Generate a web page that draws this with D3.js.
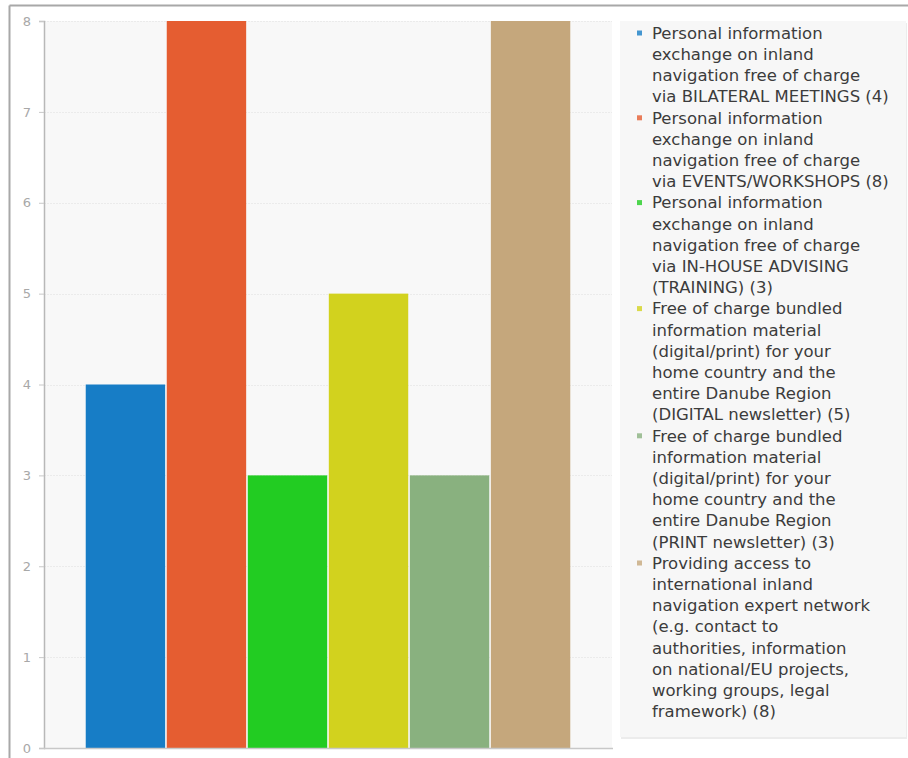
<!DOCTYPE html>
<html>
<head>
<meta charset="utf-8">
<script src="https://cdn.jsdelivr.net/npm/d3@7"></script>
<style>
  html, body { margin: 0; padding: 0; background: #fff; }
  svg { display: block; font-family: "DejaVu Sans", sans-serif; }
</style>
</head>
<body>
<svg id="chart" width="908" height="758"></svg>
<script>
// Service categories (one bar each) and their counts
const categories = [
  "BILATERAL MEETINGS",
  "EVENTS/WORKSHOPS",
  "IN-HOUSE ADVISING",
  "DIGITAL newsletter",
  "PRINT newsletter",
  "Expert network"
];
const values = [4, 8, 3, 5, 3, 8];
const colors = ["#177dc6", "#e55d31", "#22cc22", "#d2d21e", "#89b17f", "#c5a77c"];

// Legend labels, already broken into lines
const legendLines = [
  ["Personal information", "exchange on inland", "navigation free of charge", "via BILATERAL MEETINGS (4)"],
  ["Personal information", "exchange on inland", "navigation free of charge", "via EVENTS/WORKSHOPS (8)"],
  ["Personal information", "exchange on inland", "navigation free of charge", "via IN-HOUSE ADVISING", "(TRAINING) (3)"],
  ["Free of charge bundled", "information material", "(digital/print) for your", "home country and the", "entire Danube Region", "(DIGITAL newsletter) (5)"],
  ["Free of charge bundled", "information material", "(digital/print) for your", "home country and the", "entire Danube Region", "(PRINT newsletter) (3)"],
  ["Providing access to", "international inland", "navigation expert network", "(e.g. contact to", "authorities, information", "on national/EU projects,", "working groups, legal", "framework) (8)"]
];
const yTicks = [0, 1, 2, 3, 4, 5, 6, 7, 8];

const svg = d3.select("#chart");

// Outer frame (top and left edges visible)
svg.append("line").attr("x1", 9.5).attr("x2", 908).attr("y1", 5.5).attr("y2", 5.5)
  .attr("stroke", "#a8a8a8").attr("stroke-width", 2);
svg.append("line").attr("x1", 9.5).attr("x2", 9.5).attr("y1", 5.5).attr("y2", 758)
  .attr("stroke", "#a8a8a8").attr("stroke-width", 2);

const plot = { left: 44, right: 612, top: 21, bottom: 748 };

const x = d3.scaleBand()
  .domain(categories)
  .range([plot.left, plot.right])
  .paddingInner(0.02)
  .paddingOuter(0.515);

const y = d3.scaleLinear()
  .domain([0, 8])
  .range([plot.bottom, plot.top]);

// Plot background
svg.append("rect")
  .attr("x", plot.left).attr("y", plot.top)
  .attr("width", plot.right - plot.left).attr("height", plot.bottom - plot.top)
  .attr("fill", "#f8f8f8");

// Horizontal grid lines
svg.append("g")
  .selectAll("line")
  .data(yTicks.filter(d => d > 0))
  .join("line")
  .attr("x1", plot.left).attr("x2", plot.right)
  .attr("y1", d => Math.round(y(d)) + 0.5).attr("y2", d => Math.round(y(d)) + 0.5)
  .attr("stroke", "#ebebeb")
  .attr("stroke-dasharray", "2,1");

// Bars
svg.append("g")
  .selectAll("rect")
  .data(values)
  .join("rect")
  .attr("x", (d, i) => x(categories[i]))
  .attr("y", d => y(d))
  .attr("width", x.bandwidth())
  .attr("height", d => y(0) - y(d))
  .attr("fill", (d, i) => colors[i]);

// Y axis
const yAxis = svg.append("g")
  .attr("transform", `translate(${plot.left},0)`)
  .call(d3.axisLeft(y).tickValues(yTicks).tickFormat(d3.format("d")).tickSize(5).tickPadding(8));
yAxis.select(".domain").attr("stroke", "#b8b8b8").attr("stroke-width", 1.5);
yAxis.selectAll(".tick line").attr("stroke", "#c8c8c8");
yAxis.selectAll(".tick text")
  .attr("fill", "#a8a8a8")
  .style("font-size", "13px")
  .style("font-family", "DejaVu Sans, sans-serif");

// X axis baseline
svg.append("line")
  .attr("x1", plot.left).attr("x2", plot.right + 1)
  .attr("y1", plot.bottom + 0.5).attr("y2", plot.bottom + 0.5)
  .attr("stroke", "#c8c8c8").attr("stroke-width", 1.5);

// Legend panel
const legend = { left: 620, top: 21, right: 906, bottom: 737 };
svg.append("rect")
  .attr("x", legend.left + 1).attr("y", legend.top + 2)
  .attr("width", legend.right - legend.left).attr("height", legend.bottom - legend.top)
  .attr("fill", "#ececec");
svg.append("rect")
  .attr("x", legend.left).attr("y", legend.top)
  .attr("width", legend.right - legend.left).attr("height", legend.bottom - legend.top)
  .attr("fill", "#f7f7f7");

const lineH = 21.2;
const firstLineY = 33;
let lineIndex = 0;
const entries = legendLines.map((lines, i) => {
  const e = { lines, color: colors[i], start: lineIndex };
  lineIndex += lines.length;
  return e;
});

const lg = svg.append("g");
const items = lg.selectAll("g.item")
  .data(entries)
  .join("g")
  .attr("class", "item");

items.append("rect")
  .attr("x", 637)
  .attr("y", d => firstLineY + d.start * lineH - 2.5)
  .attr("width", 5).attr("height", 5)
  .attr("fill", d => d.color)
  .attr("opacity", 0.8);

items.each(function (d) {
  d3.select(this).selectAll("text")
    .data(d.lines)
    .join("text")
    .attr("x", 652)
    .attr("y", (t, j) => firstLineY + (d.start + j) * lineH)
    .attr("dy", "0.35em")
    .attr("fill", "#3c3c3c")
    .style("font-size", "16.5px")
    .text(t => t);
});
</script>
</body>
</html>
